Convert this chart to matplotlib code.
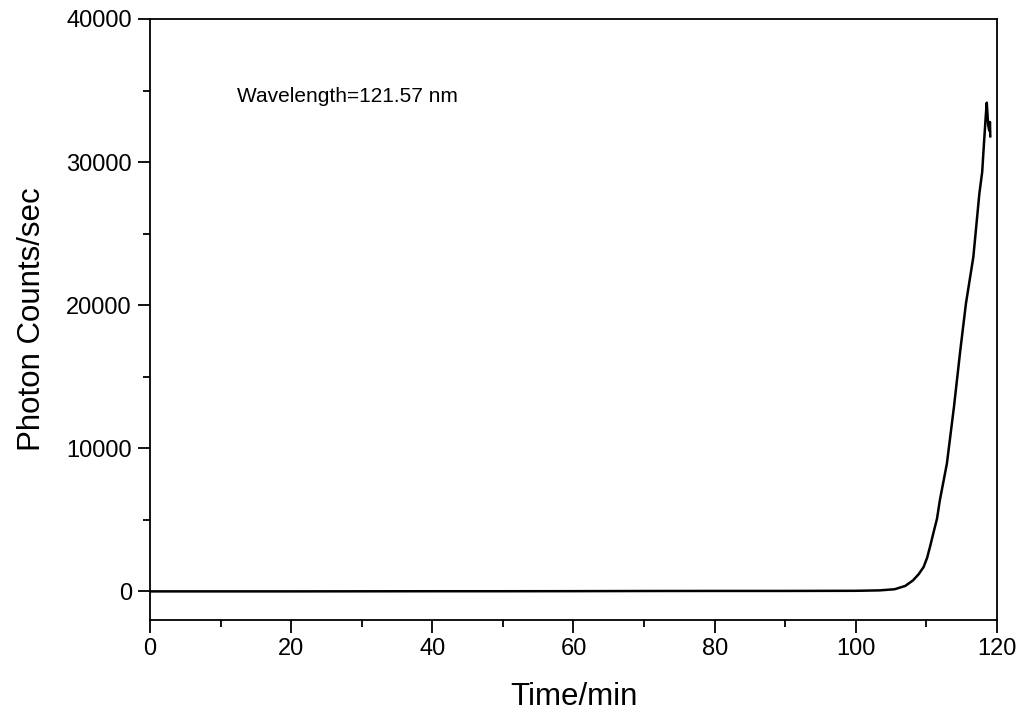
import matplotlib.pyplot as plt
from matplotlib.ticker import MultipleLocator

plt.rcParams['font.family'] = ['Liberation Sans', 'DejaVu Sans']

# Lyman-alpha photon count rate over the run
time_min = [0, 10, 20, 30, 40, 50, 60, 70, 80, 90, 100, 103.4, 105.5,
            107.0, 108.1, 108.9, 109.6, 110.1, 110.5, 111.0, 111.5,
            111.9, 112.9, 113.9, 114.8, 115.6, 116.65, 117.5, 117.9,
            118.1, 118.4, 118.55, 118.75, 118.9, 119.0, 119.05]
counts = [0, 0, 0, 5, 10, 10, 15, 25, 30, 30, 40, 70, 150,
          380, 770, 1200, 1700, 2350, 3100, 4100, 5080,
          6360, 8930, 12890, 16850, 20120, 23380, 27800, 29300,
          30900, 33170, 34150, 32600, 32200, 32800, 31800]

fig = plt.figure(figsize=(10.21, 7.19), dpi=100, facecolor='white')
ax = fig.add_axes([0.1469, 0.1377, 0.8296, 0.8359])

ax.plot(time_min, counts, color='black', linewidth=1.8)

ax.set_xlim(0, 120)
ax.set_ylim(-2000, 40000)
ax.xaxis.set_major_locator(MultipleLocator(20))
ax.xaxis.set_minor_locator(MultipleLocator(10))
ax.yaxis.set_major_locator(MultipleLocator(10000))
ax.yaxis.set_minor_locator(MultipleLocator(5000))

for s in ax.spines.values():
    s.set_linewidth(1.3)
ax.tick_params(which='both', direction='out', top=False, right=False, width=1.3)
ax.tick_params(which='major', length=9, labelsize=17, pad=4)
ax.tick_params(which='minor', length=5)

ax.set_xlabel('Time/min', fontsize=22.5, labelpad=16)
ax.set_ylabel('Photon Counts/sec', fontsize=22.5, labelpad=14)

ax.text(12.3, 34600, 'Wavelength=121.57 nm', fontsize=15, va='center', ha='left')

fig.savefig('out.png', dpi=100, facecolor='white')
